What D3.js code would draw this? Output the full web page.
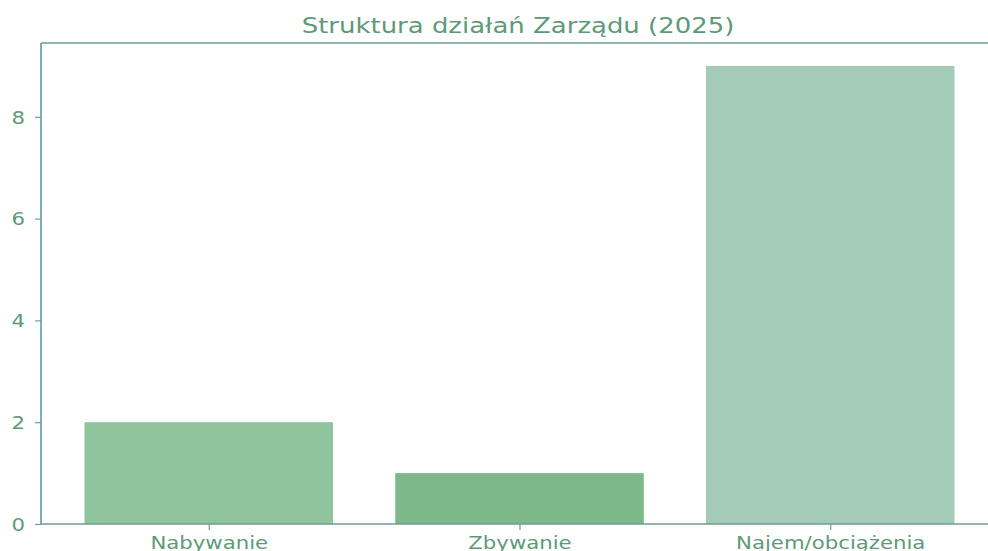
<!DOCTYPE html>
<html><head><meta charset="utf-8">
<script src="https://cdn.jsdelivr.net/npm/d3@7"></script>
<style>html,body{margin:0;padding:0;background:#fff;overflow:hidden}</style>
</head><body>
<svg id="c" width="988" height="551"></svg>
<script>
const categories = ["Nabywanie", "Zbywanie", "Najem/obciążenia"];
const values = [2, 1, 9];
const barColors = ["#90c49c", "#7db88a", "#a3cbb8"];
const yTicks = [0, 2, 4, 6, 8];
const title = "Struktura działań Zarządu (2025)";

const textColor = "#5e9a78", spineColor = "#6f9c92";
const L = 41, R = 998, T = 43, B = 524, sx = 1.18;
const svg = d3.select("#c");
const x = d3.scaleLinear().domain([-0.54, categories.length - 1 + 0.54]).range([L, R]);
const y = d3.scaleLinear().domain([0, 9.45]).range([B, T]);
const bw = x(0.8) - x(0);

svg.selectAll("rect.bar").data(values).join("rect")
  .attr("class", "bar")
  .attr("x", (d, i) => x(i - 0.4)).attr("width", bw)
  .attr("y", d => y(d)).attr("height", d => y(0) - y(d))
  .attr("fill", (d, i) => barColors[i]);

// spines
svg.append("line").attr("x1", L).attr("x2", L).attr("y1", T).attr("y2", B).attr("stroke", "#5f9aa2").attr("stroke-width", 1.6);
svg.append("line").attr("x1", L).attr("x2", R).attr("y1", T).attr("y2", T).attr("stroke", spineColor).attr("stroke-width", 1.6);
svg.append("line").attr("x1", L).attr("x2", R).attr("y1", B).attr("y2", B).attr("stroke", spineColor).attr("stroke-width", 1.6);
svg.append("line").attr("x1", R).attr("x2", R).attr("y1", T).attr("y2", B).attr("stroke", spineColor).attr("stroke-width", 1.6);

// y axis
const yAxis = svg.append("g").attr("transform", `translate(${L},0)`)
  .call(d3.axisLeft(y).tickValues(yTicks).tickSize(6).tickPadding(10).tickFormat(d3.format("d")));
yAxis.select(".domain").remove();
yAxis.selectAll("line").attr("stroke", spineColor).attr("stroke-width", 1.2);
yAxis.selectAll("text").attr("fill", textColor)
  .style("font-family", "DejaVu Sans").style("font-size", "18px")
  .attr("x", 0).attr("dy", "0.35em")
  .attr("transform", `translate(-16,0) scale(${sx},1)`);

// x axis
const xAxis = svg.append("g").attr("transform", `translate(0,${B})`)
  .call(d3.axisBottom(x).tickValues(categories.map((d, i) => i)).tickSize(6).tickPadding(8)
    .tickFormat(i => categories[i]));
xAxis.select(".domain").remove();
xAxis.selectAll("line").attr("stroke", spineColor).attr("stroke-width", 1.2);
xAxis.selectAll("text").attr("fill", textColor)
  .style("font-family", "DejaVu Sans").style("font-size", "18px")
  .attr("y", 0).attr("dy", 0)
  .attr("transform", `translate(0,25) scale(${sx},1)`);

// title
svg.append("text").text(title)
  .attr("transform", `translate(${(L + R) / 2 - 1.5},33) scale(${sx},1)`)
  .attr("text-anchor", "middle").attr("fill", textColor)
  .style("font-family", "DejaVu Sans").style("font-size", "22px");
</script>
</body></html>
